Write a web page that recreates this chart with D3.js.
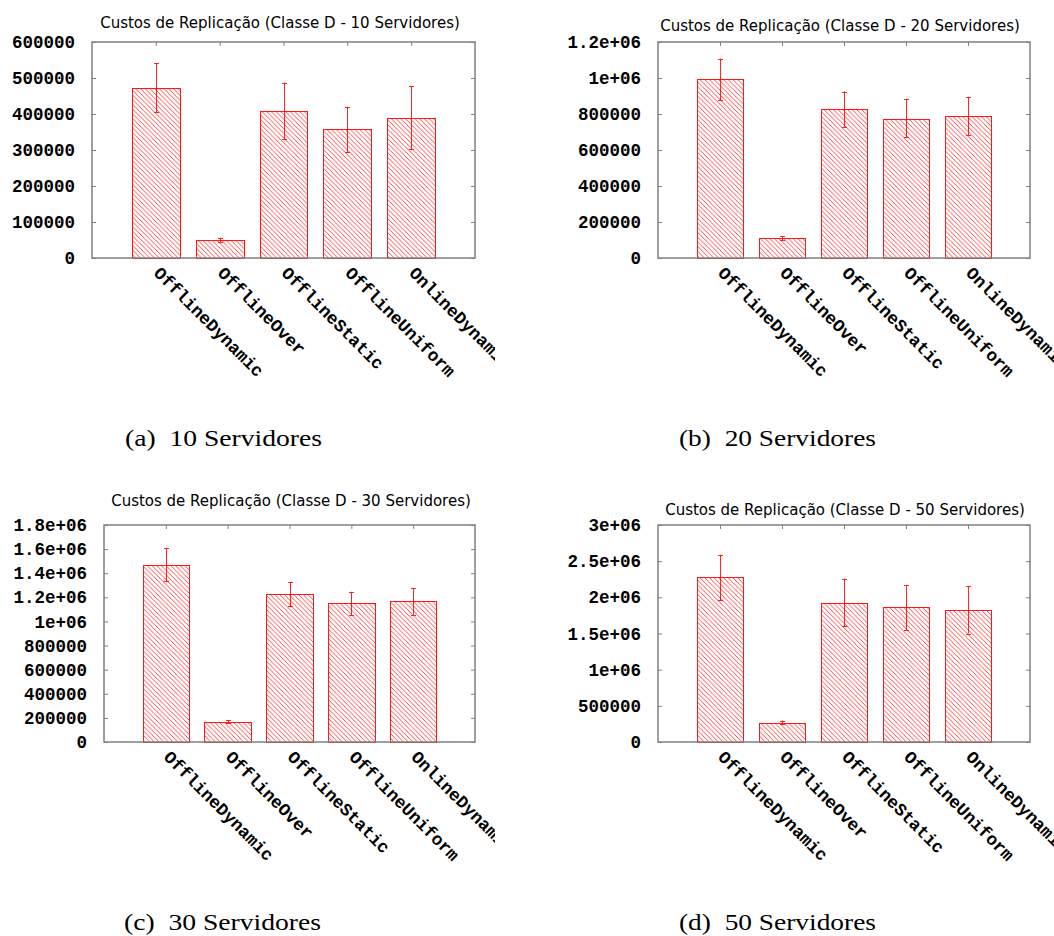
<!DOCTYPE html>
<html>
<head>
<meta charset="utf-8">
<script src="https://cdn.jsdelivr.net/npm/d3@7"></script>
<style>
  body { margin: 0; background: #fff; }
  svg { display: block; }
</style>
</head>
<body>
<svg id="fig" width="1054" height="936"></svg>
<script>
// Replication cost per heuristic, class D workload
const categories = ["OfflineDynamic", "OfflineOver", "OfflineStatic", "OfflineUniform", "OnlineDynamic"];

const mean10 = [471000, 50000, 408000, 359000, 390000];
const low10  = [405000, 44000, 330000, 294000, 302000];
const high10 = [541000, 56000, 487000, 420000, 477000];

const mean20 = [995000, 111000, 829000, 773000, 790000];
const low20  = [877000, 100000, 729000, 670000, 683000];
const high20 = [1108000, 120000, 925000, 883000, 895000];

const mean30 = [1465000, 169000, 1224000, 1155000, 1171000];
const low30  = [1332000, 161000, 1127000, 1055000, 1055000];
const high30 = [1609000, 183000, 1327000, 1246000, 1277000];

const mean50 = [2280000, 268000, 1924000, 1860000, 1819000];
const low50  = [1957000, 249000, 1597000, 1546000, 1500000];
const high50 = [2589000, 296000, 2257000, 2165000, 2151000];

const yTicks10 = [0, 100000, 200000, 300000, 400000, 500000, 600000];
const yTicks20 = [0, 200000, 400000, 600000, 800000, 1000000, 1200000];
const yTicks30 = [0, 200000, 400000, 600000, 800000, 1000000, 1200000, 1400000, 1600000, 1800000];
const yTicks50 = [0, 500000, 1000000, 1500000, 2000000, 2500000, 3000000];

const serverCounts = [10, 20, 30, 50];
const subLetters = ["(a)", "(b)", "(c)", "(d)"];

const series = [
  { mean: mean10, low: low10, high: high10, ticks: yTicks10 },
  { mean: mean20, low: low20, high: high20, ticks: yTicks20 },
  { mean: mean30, low: low30, high: high30, ticks: yTicks30 },
  { mean: mean50, low: low50, high: high50, ticks: yTicks50 }
];

// Placement of each sub-figure on the page
const layout = [
  { x0: 92,  x1: 475,  y0: 42,  y1: 258, titleX: 280, titleY: 28,  clip: [0, 0, 495, 480],     capX: 125, capY: 446 },
  { x0: 658, x1: 1030, y0: 42,  y1: 258, titleX: 840, titleY: 31,  clip: [540, 0, 514, 480],   capX: 679, capY: 446 },
  { x0: 104, x1: 475,  y0: 525, y1: 742, titleX: 291, titleY: 506, clip: [0, 480, 495, 456],   capX: 124, capY: 930 },
  { x0: 658, x1: 1030, y0: 525, y1: 742, titleX: 845, titleY: 515, clip: [540, 480, 514, 456], capX: 679, capY: 930 }
];

const RED = "#ff0000";
const FRAME = "#808080";
const BOX = 0.75;
const MONO = "'Liberation Mono', 'Courier New', monospace";

// gnuplot-style tick text: plain integers, exponent notation from one million up
function fmtTick(v) {
  if (v < 1e6) return String(v);
  const m = +(v / 1e6).toFixed(1);
  return m + "e+06";
}

const svg = d3.select("#fig");
const defs = svg.append("defs");

const pat = defs.append("pattern")
  .attr("id", "hatch")
  .attr("patternUnits", "userSpaceOnUse")
  .attr("width", 4.7).attr("height", 4.7);
pat.append("path")
  .attr("d", "M-1,-1 L5.7,5.7 M-1,3.7 L1,5.7 M3.7,-1 L5.7,1")
  .attr("stroke", RED)
  .attr("stroke-opacity", 0.8)
  .attr("stroke-width", 0.9);

series.forEach((s, p) => {
  const L = layout[p];
  defs.append("clipPath").attr("id", "clip" + p)
    .append("rect")
    .attr("x", L.clip[0]).attr("y", L.clip[1])
    .attr("width", L.clip[2]).attr("height", L.clip[3]);

  const g = svg.append("g").attr("clip-path", `url(#clip${p})`);

  const x = d3.scaleLinear().domain([-1, 5]).range([L.x0, L.x1]);
  const y = d3.scaleLinear().domain([0, d3.max(s.ticks)]).range([L.y1, L.y0]);

  // title
  g.append("text")
    .attr("x", L.titleX).attr("y", L.titleY)
    .attr("text-anchor", "middle")
    .attr("font-family", "'DejaVu Sans', sans-serif")
    .attr("font-size", 15)
    .attr("fill", "#000")
    .text(`Custos de Replicação (Classe D - ${serverCounts[p]} Servidores)`);

  // left axis with labels
  const yAxisL = d3.axisLeft(y).tickValues(s.ticks).tickFormat(fmtTick)
    .tickSizeInner(-4).tickSizeOuter(0).tickPadding(17);
  const gl = g.append("g").attr("transform", `translate(${L.x0},0)`).call(yAxisL);
  gl.select(".domain").remove();
  gl.selectAll("line").attr("stroke", FRAME);
  gl.selectAll("text")
    .attr("font-family", MONO)
    .attr("font-weight", "bold")
    .attr("font-size", 17.5)
    .attr("fill", "#000");

  // mirrored ticks on the right
  const yAxisR = d3.axisRight(y).tickValues(s.ticks).tickFormat("")
    .tickSizeInner(-4).tickSizeOuter(0);
  const gr = g.append("g").attr("transform", `translate(${L.x1},0)`).call(yAxisR);
  gr.select(".domain").remove();
  gr.selectAll("line").attr("stroke", FRAME);

  // category ticks along the top
  const xAxisT = d3.axisTop(x).tickValues(d3.range(categories.length)).tickFormat("")
    .tickSizeInner(-4).tickSizeOuter(0);
  const gt = g.append("g").attr("transform", `translate(0,${L.y0})`).call(xAxisT);
  gt.select(".domain").remove();
  gt.selectAll("line").attr("stroke", FRAME);

  // bars
  g.selectAll("rect.bar").data(s.mean).join("rect")
    .attr("class", "bar")
    .attr("x", (d, i) => Math.round(x(i - BOX / 2)) + 0.5)
    .attr("width", (d, i) => Math.round(x(i + BOX / 2)) - Math.round(x(i - BOX / 2)))
    .attr("y", d => Math.round(y(d)) + 0.5)
    .attr("height", d => Math.round(y(0)) - Math.round(y(d)))
    .attr("fill", "url(#hatch)")
    .attr("stroke", RED)
    .attr("stroke-opacity", 0.9)
    .attr("stroke-width", 1);

  // error bars
  const eb = g.selectAll("g.err").data(s.mean).join("g").attr("class", "err")
    .attr("stroke", RED).attr("stroke-width", 1).attr("stroke-opacity", 0.85);
  eb.append("line")
    .attr("x1", (d, i) => Math.round(x(i)) + 0.5).attr("x2", (d, i) => Math.round(x(i)) + 0.5)
    .attr("y1", (d, i) => y(s.low[i])).attr("y2", (d, i) => y(s.high[i]));
  eb.append("line")
    .attr("x1", (d, i) => Math.round(x(i)) - 2).attr("x2", (d, i) => Math.round(x(i)) + 3)
    .attr("y1", (d, i) => Math.round(y(s.high[i])) + 0.5).attr("y2", (d, i) => Math.round(y(s.high[i])) + 0.5);
  eb.append("line")
    .attr("x1", (d, i) => Math.round(x(i)) - 2).attr("x2", (d, i) => Math.round(x(i)) + 3)
    .attr("y1", (d, i) => Math.round(y(s.low[i])) + 0.5).attr("y2", (d, i) => Math.round(y(s.low[i])) + 0.5);

  // plot frame
  g.append("rect")
    .attr("x", L.x0).attr("y", L.y0)
    .attr("width", L.x1 - L.x0).attr("height", L.y1 - L.y0)
    .attr("fill", "none").attr("stroke", FRAME).attr("stroke-width", 1.5);

  // rotated category labels
  g.selectAll("text.cat").data(categories).join("text")
    .attr("class", "cat")
    .attr("transform", (d, i) => `translate(${x(i) - 3},${L.y1 + 16}) rotate(45)`)
    .attr("font-family", MONO)
    .attr("font-weight", "bold")
    .attr("font-size", 17.5)
    .attr("fill", "#000")
    .text(d => d);

  // sub-figure caption
  svg.append("text")
    .attr("x", L.capX).attr("y", L.capY)
    .attr("font-family", "'Liberation Serif', 'Times New Roman', serif")
    .attr("font-size", 24)
    .attr("fill", "#000")
    .attr("xml:space", "preserve")
    .attr("textLength", 197)
    .attr("lengthAdjust", "spacingAndGlyphs")
    .text(`${subLetters[p]}  ${serverCounts[p]} Servidores`);
});
</script>
</body>
</html>
